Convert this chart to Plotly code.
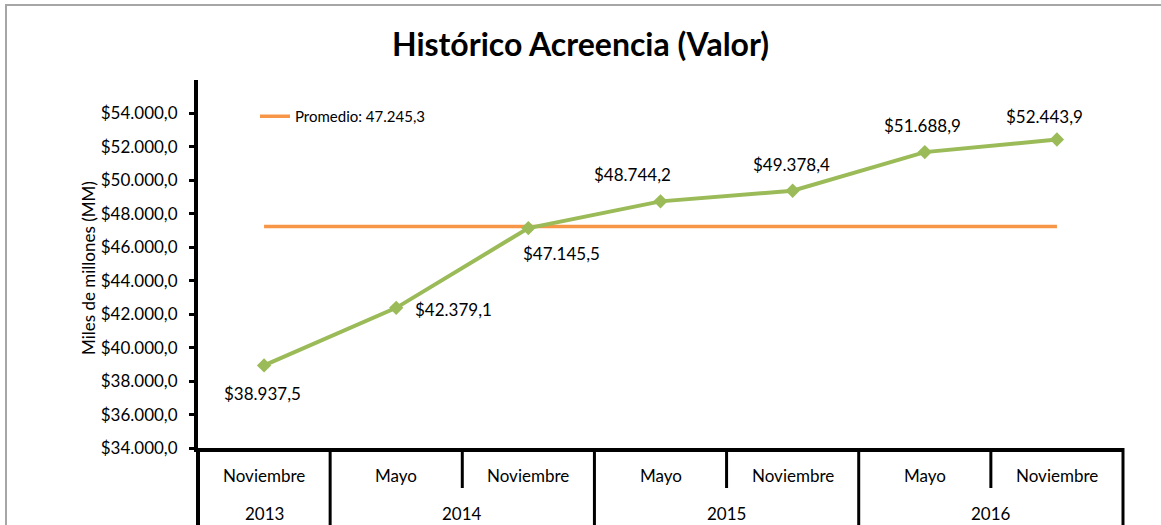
import plotly.graph_objects as go

months = ["Noviembre", "Mayo", "Noviembre", "Mayo", "Noviembre", "Mayo", "Noviembre"]
years = ["2013", "2014", "2015", "2016"]
year_spans = [(0, 0), (1, 2), (3, 4), (5, 6)]
values = [38937.5, 42379.1, 47145.5, 48744.2, 49378.4, 51688.9, 52443.9]
average = 47245.3
y_ticks = [34000, 36000, 38000, 40000, 42000, 44000, 46000, 48000, 50000, 52000, 54000]

# label offsets (px) for the data labels
label_dx = [-2, 57, 33, -28, -1, -2, -12]
label_dy = [-28, -2, -25, 27, 26, 27, 23]

FONT = "Lato, Open Sans, sans-serif"
W, H = 1161, 525
L, R, T, B = 198, 38, 80, 77
ph = H - T - B
pw = W - L - R


def fmt_plain(v):
    s = f"{v:,.1f}"
    return s.replace(",", "X").replace(".", ",").replace("X", ".")


def fmt(v):
    return "$" + fmt_plain(v)


x = list(range(len(values)))
fig = go.Figure()
fig.add_trace(go.Scatter(
    x=[x[0], x[-1]], y=[average, average], mode="lines",
    line=dict(color="#F79646", width=3.5),
    name="Promedio: " + fmt_plain(average), showlegend=True))
fig.add_trace(go.Scatter(
    x=x, y=values, mode="lines+markers",
    line=dict(color="#9BBB59", width=4),
    marker=dict(symbol="diamond", size=11, color="#9BBB59"),
    showlegend=False, name="Valor"))

annotations = []
for i, v in enumerate(values):
    annotations.append(dict(x=i, y=v, xref="x", yref="y", text=fmt(v), showarrow=False,
                            xshift=label_dx[i], yshift=label_dy[i],
                            xanchor="center", yanchor="middle",
                            font=dict(family=FONT, size=17, color="#000000")))
for i, m in enumerate(months):
    annotations.append(dict(x=i, y=-(475 - (H - B)) / ph, xref="x", yref="paper", text=m,
                            xanchor="center", yanchor="middle",
                            showarrow=False, font=dict(family=FONT, size=17, color="#000000")))
for yr, (a, b) in zip(years, year_spans):
    annotations.append(dict(x=(a + b) / 2, y=-(513 - (H - B)) / ph, xref="x", yref="paper", text=yr,
                            xanchor="center", yanchor="middle",
                            showarrow=False, font=dict(family=FONT, size=17, color="#000000")))
annotations.append(dict(x=(88 - L) / pw, y=((H - B) - 268) / ph, xref="paper", yref="paper",
                        text="Miles de millones (MM)", textangle=-90, showarrow=False,
                        xanchor="center", yanchor="middle",
                        font=dict(family=FONT, size=17, color="#000000")))

n = len(months)
shapes = []
year_bounds = [0] + [b + 1 for (_, b) in year_spans]
for k in range(n + 1):
    full = k in year_bounds
    y_end = -(B + 10) / ph if full else -(488 - (H - B)) / ph
    shapes.append(dict(type="line", xref="paper", yref="paper", x0=k / n, x1=k / n,
                       y0=0, y1=y_end, line=dict(color="#000000", width=4 if k == 0 else 3)))
# outer frame
shapes.append(dict(type="rect", xref="paper", yref="paper",
                   x0=(6 - L) / pw, x1=(W + 20 - L) / pw,
                   y0=-(B + 20) / ph, y1=((H - B) - 5) / ph,
                   line=dict(color="#A6A6A6", width=2), layer="below"))

fig.update_layout(
    width=W, height=H,
    margin=dict(l=L, r=R, t=T, b=B),
    paper_bgcolor="#FFFFFF", plot_bgcolor="#FFFFFF",
    separators=",.",
    title=dict(text="<b>Histórico Acreencia (Valor)</b>", x=0.5, xref="container",
               y=1 - 45 / H, yref="container", yanchor="middle", xanchor="center",
               font=dict(family=FONT, size=32, color="#000000")),
    font=dict(family=FONT, size=17, color="#000000"),
    legend=dict(x=(255 - L) / pw, y=((H - B) - 100) / ph, xanchor="left", yanchor="top",
                bgcolor="rgba(0,0,0,0)", font=dict(family=FONT, size=15, color="#000000"),
                itemwidth=30),
    xaxis=dict(range=[-0.5, n - 0.5], showticklabels=False, showgrid=False, zeroline=False,
               showline=True, linecolor="#000000", linewidth=4, ticks=""),
    yaxis=dict(range=[34000, 56000], tickvals=y_ticks, tickformat="$,.1f",
               showgrid=False, zeroline=False, showline=True, linecolor="#000000", linewidth=4,
               ticks="outside", ticklen=5, tickwidth=3, tickcolor="#000000",
               ticklabelstandoff=8,
               tickfont=dict(family=FONT, size=17, color="#000000")),
    annotations=annotations,
    shapes=shapes,
)

fig.write_html("out.html", config={"displayModeBar": False},
               post_script="document.body.style.margin='0px';document.body.style.overflow='hidden';")
